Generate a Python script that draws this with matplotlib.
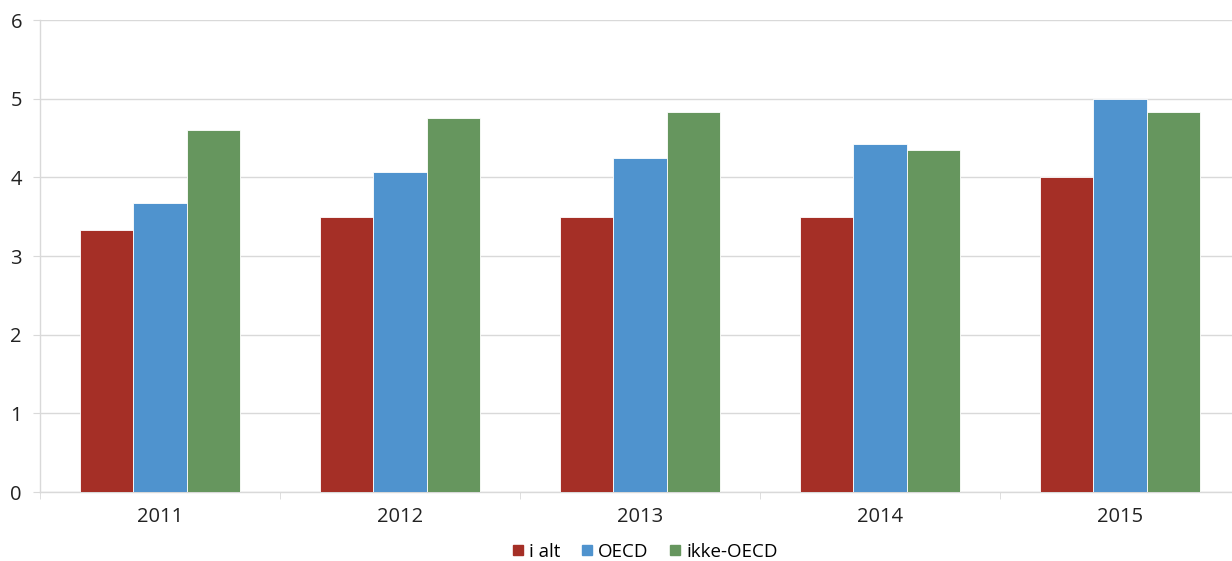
import numpy as np
import matplotlib
matplotlib.use("Agg")
import matplotlib.pyplot as plt
from matplotlib.lines import Line2D

years = ['2011', '2012', '2013', '2014', '2015']
i_alt = [3.33, 3.50, 3.50, 3.50, 4.01]
oecd = [3.68, 4.07, 4.25, 4.42, 5.00]
ikke_oecd = [4.60, 4.76, 4.83, 4.35, 4.83]

series = ['i alt', 'OECD', 'ikke-OECD']
colors = ['#A52F26', '#4F93CE', '#66965E']

plt.rcParams['font.family'] = ['Open Sans', 'DejaVu Sans']

fig = plt.figure(figsize=(12.32, 5.61), dpi=100)
ax = fig.add_axes([40 / 1232, 69 / 561, 1200 / 1232, 472 / 561])

x = np.arange(len(years))
w = 0.222
for k, (vals, c) in enumerate(zip([i_alt, oecd, ikke_oecd], colors)):
    ax.bar(x + (k - 1) * w, vals, w, color=c, edgecolor='white', linewidth=0.6, zorder=3)

ax.set_xlim(-0.5, len(years) - 0.5)
ax.set_ylim(0, 6)
ax.set_yticks(range(7))
ax.yaxis.grid(True, color='#D9D9D9', linewidth=1, zorder=0)

ax.set_xticks(x)
ax.set_xticklabels(years)
ax.set_xticks(np.arange(-0.5, len(years)), minor=True)
ax.tick_params(axis='x', which='major', length=0, pad=11, labelsize=14.5, colors='#222222')
ax.tick_params(axis='x', which='minor', length=5, color='#D9D9D9')
ax.tick_params(axis='y', length=5, color='#D9D9D9', pad=8, labelsize=14.5, labelcolor='#222222')

for s in ['top', 'right']:
    ax.spines[s].set_visible(False)
for s in ['left', 'bottom']:
    ax.spines[s].set_color('#D9D9D9')
    ax.spines[s].set_linewidth(1)

handles = [Line2D([], [], marker='s', linestyle='', color=c, markersize=7) for c in colors]
fig.legend(handles, series, loc='center', bbox_to_anchor=(0.522, 0.016), ncol=3,
           frameon=False, fontsize=13.5, handletextpad=0.1, columnspacing=0.9,
           handlelength=1.0)

fig.savefig('out.png', dpi=100)
